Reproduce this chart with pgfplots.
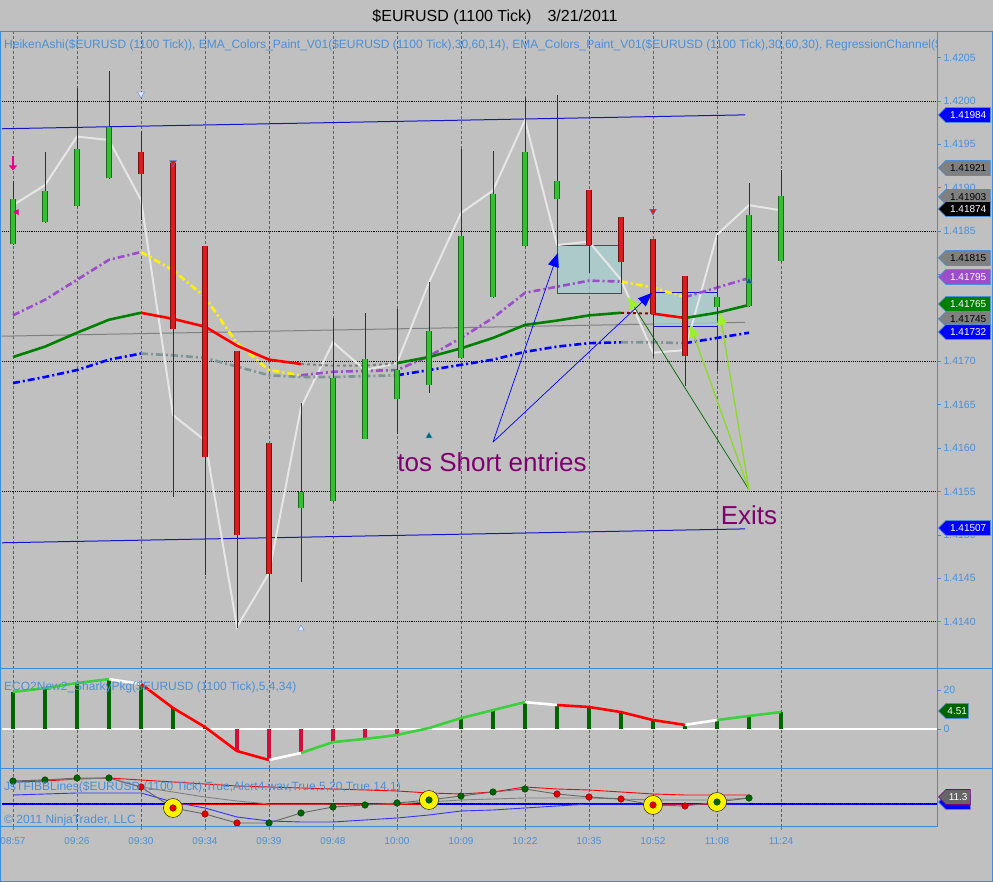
\documentclass[border=0pt]{standalone}
\usepackage{fontspec}
\setmainfont{Liberation Sans}
\usepackage{pgfplots}
\pgfplotsset{compat=1.18}
\usepackage{pgfplotstable}
\usetikzlibrary{arrows.meta,shapes.symbols}

\definecolor{bg}{HTML}{C0C0C0}
\definecolor{axblue}{HTML}{3C8DE0}
\definecolor{txtblue}{HTML}{4A8FD8}
\definecolor{cgreen}{HTML}{33C133}
\definecolor{cgreenedge}{HTML}{1E6A1E}
\definecolor{cred}{HTML}{D91C1C}
\definecolor{crededge}{HTML}{7A1010}
\definecolor{wick}{HTML}{2A3434}
\definecolor{closeline}{HTML}{E6E6E6}
\definecolor{emapurple}{HTML}{9B4DCA}
\definecolor{emagreen}{HTML}{008000}
\definecolor{emablue}{HTML}{0000FF}
\definecolor{emagray}{HTML}{7F9595}
\definecolor{regblue}{HTML}{1414C8}
\definecolor{boxfill}{HTML}{A6CECE}
\definecolor{annot}{HTML}{800070}
\definecolor{histgreen}{HTML}{006400}
\definecolor{histred}{HTML}{D0103C}
\definecolor{ecogreen}{HTML}{3CD03C}
\definecolor{lime}{HTML}{9CF02C}

\newcommand\fs[1]{\fontsize{#1}{#1}\selectfont}

% heiken ashi candles: i high low bodytop bodybottom
\pgfplotstableread{
i h l bt bb
0 1.41908 1.41834 1.41887 1.41835
1 1.41941 1.41860 1.41896 1.41861
2 1.42015 1.41878 1.41945 1.41879
3 1.42035 1.41910 1.41970 1.41911
9 1.41652 1.41446 1.41550 1.41531
10 1.41750 1.41538 1.41681 1.41539
11 1.41756 1.41610 1.41703 1.41611
12 1.41760 1.41616 1.41690 1.41657
13 1.41791 1.41664 1.41735 1.41673
14 1.41945 1.41703 1.41844 1.41704
15 1.41942 1.41773 1.41893 1.41774
16 1.42005 1.41832 1.41941 1.41833
17 1.42007 1.41832 1.41908 1.41887
22 1.41846 1.41689 1.41774 1.41763
23 1.41906 1.41763 1.41869 1.41764
24 1.41921 1.41815 1.41890 1.41816
}\greencandles
\pgfplotstableread{
i h l bt bb
4 1.41965 1.41863 1.41941 1.41916
5 1.41929 1.41544 1.41929 1.41737
6 1.41833 1.41454 1.41833 1.41590
7 1.41712 1.41393 1.41712 1.41500
8 1.41606 1.41396 1.41606 1.41455
18 1.41897 1.41802 1.41897 1.41834
19 1.41866 1.41790 1.41866 1.41815
20 1.41841 1.41705 1.41841 1.41755
21 1.41798 1.41672 1.41798 1.41706
}\redcandles
\pgfplotstableread{
i c
0 1.41880
1 1.41903
2 1.41959
3 1.41955
4 1.41886
5 1.41638
6 1.41609
7 1.41394
8 1.41456
9 1.41647
10 1.41722
11 1.41690
12 1.41698
13 1.41791
14 1.41871
15 1.41897
16 1.41978
17 1.41834
18 1.41838
19 1.41794
20 1.41710
21 1.41713
22 1.41846
23 1.41880
24 1.41874
}\closes
% ECO histogram
\pgfplotstableread{
i v
0 19.0
1 21.0
2 23.6
3 25.6
4 23.1
5 10.8
6 1.0
13 0.5
14 5.6
15 9.7
16 13.8
17 12.3
18 11.3
19 8.7
20 4.6
21 2.1
22 4.6
23 6.7
24 8.7
}\ecopos
\pgfplotstableread{
i v
7 -11.3
8 -15.9
9 -12.3
10 -6.7
11 -5.1
12 -3.1
}\econeg
% BB panel (pixels above panel bottom)
\pgfplotstableread{
i dot up mid lo
0 46 45 46 32
1 47 46 47 33
2 49 48 48 34
3 49 49 49 34
4 40 47 40 34
5 19 45 35 25
6 13 43 30 19
7 4 41 26 10
8 4 40 23 6
9 14 39 23 5
10 20 38 23 5
11 22 37 23 7
12 24 36 23 9
13 27 34 25 12
14 31 33 27 16
15 35 35 28 17
16 38 40 29 19
17 33 38 29 21
18 30 37 29 23
19 28 35 28 23
20 22 33 27 23
21 21 32 27 23
22 25 32 27 23
23 29 32 29 23
}\bbdata

\pgfplotsset{
  panel/.style={
    scale only axis, width=935pt,
    xmin=-0.34375, xmax=28.875,
    xtick={0,2,...,24},
    xmajorgrids,
    major grid style={draw=gray!75!black, dash pattern=on 3pt off 2pt, line width=0.5pt},
    axis line style={draw=none},
    tick align=outside,
    major tick length=4pt,
    tick style={draw=axblue, line width=0.6pt},
    ytick pos=right, yticklabel pos=right,
    xtick pos=bottom,
    yticklabel style={font=\fs{10.5}, text=txtblue, xshift=-1pt},
    xticklabel style={font=\fs{10}, text=txtblue, yshift=-4pt},
  },
  ema/.style={line width=2.6pt, mark=none, forget plot},
  dashdot/.style={dash pattern=on 7pt off 3pt on 2pt off 3pt},
}

\begin{document}
\begin{tikzpicture}[x=1pt,y=1pt]
\fill[bg] (0,0) rectangle (993,882);
\useasboundingbox (0,0) rectangle (993,882);

% ---------------- main price panel
\begin{axis}[panel, name=main, at={(2pt,213pt)}, anchor=south west, height=637pt,
  ymin=1.413456, ymax=1.420795,
  ytick={1.4140,1.4145,1.4150,1.4155,1.4160,1.4165,1.4170,1.4175,1.4180,1.4185,1.4190,1.4195,1.4200,1.4205},
  yticklabels={1.4140,1.4145,1.4150,1.4155,1.4160,1.4165,1.4170,,,1.4185,1.4190,1.4195,1.4200,1.4205},
  scaled y ticks=false,
  xticklabels={}, xtick style={draw=none}]

\pgfplotsinvokeforeach{1.4140,1.4155,1.4170,1.4185,1.4200}{
  \addplot[black, densely dotted, line width=0.9pt, forget plot] coordinates {(-0.34375,#1) (28.875,#1)};
}

% regression channel
\addplot[regblue, line width=1pt] coordinates {(-0.34375,1.41968) (22.875,1.41984)};
\addplot[regblue, line width=1pt] coordinates {(-0.34375,1.41491) (22.875,1.41507)};
\addplot[gray, line width=1pt] coordinates {(-0.34375,1.41729) (22.875,1.41745)};

% trade zones
\addplot[fill=boxfill, fill opacity=0.75, draw=cgreenedge, line width=0.8pt] coordinates {(17,1.41778) (19,1.41778) (19,1.41834) (17,1.41834)} -- cycle;
\addplot[fill=boxfill, fill opacity=0.75, draw=regblue, line width=0.8pt] coordinates {(20,1.41740) (22,1.41740) (22,1.41779) (20,1.41779)} -- cycle;

% close line
\addplot[closeline, line width=2pt, mark=none] table[x=i, y=c] {\closes};

% upper EMA (purple / yellow)
\addplot[ema, emapurple, dashdot] coordinates {(0,1.41753) (1,1.41771) (2,1.41794) (3,1.41817) (4,1.41826)};
\addplot[ema, yellow, dashdot] coordinates {(4,1.41826) (5,1.41805) (6,1.41774) (7,1.41721) (8,1.41690) (9,1.41684)};
\addplot[ema, emapurple, dashdot] coordinates {(9,1.41684) (10,1.41688) (11,1.41689) (12,1.41690) (13,1.41706) (14,1.41727) (15,1.41750) (16,1.41779) (17,1.41786) (18,1.41793) (19,1.41792)};
\addplot[ema, yellow, dashdot] coordinates {(19,1.41792) (20,1.41785) (21,1.41774)};
\addplot[ema, emapurple, dashdot] coordinates {(21,1.41774) (22,1.41785) (23,1.41796)};

% middle EMA (green / red)
\addplot[ema, emagreen] coordinates {(0,1.41705) (1,1.41717) (2,1.41733) (3,1.41748) (4,1.41756)};
\addplot[ema, red] coordinates {(4,1.41756) (5,1.41749) (6,1.41740) (7,1.41718) (8,1.41702) (9,1.41697)};
\addplot[ema, gray, dashed, line width=2pt] coordinates {(9,1.41697) (10,1.41695) (11,1.41695) (12,1.41698)};
\addplot[ema, emagreen] coordinates {(12,1.41698) (13,1.41705) (14,1.41715) (15,1.41727) (16,1.41742) (17,1.41747) (18,1.41753) (19,1.41756)};
\addplot[ema, red!60!black, dashed, line width=2pt] coordinates {(19,1.41756) (20,1.41755)};
\addplot[ema, red] coordinates {(20,1.41755) (21,1.41750)};
\addplot[ema, emagreen] coordinates {(21,1.41750) (22,1.41756) (23,1.41765)};

% lower EMA (blue / gray)
\addplot[ema, emablue, dashdot] coordinates {(0,1.41675) (1,1.41682) (2,1.41690) (3,1.41702) (4,1.41709)};
\addplot[ema, emagray, dashdot] coordinates {(4,1.41709) (5,1.41707) (6,1.41704) (7,1.41694) (8,1.41684) (9,1.41682) (10,1.41682) (11,1.41683) (12,1.41684)};
\addplot[ema, emablue, dashdot] coordinates {(12,1.41684) (13,1.41690) (14,1.41696) (15,1.41702) (16,1.41711) (17,1.41717) (18,1.41721) (19,1.41722)};
\addplot[ema, emagray, dashdot] coordinates {(19,1.41722) (20,1.41722) (21,1.41721)};
\addplot[ema, emablue, dashdot] coordinates {(21,1.41721) (22,1.41727) (23,1.41733)};

% candles: wicks, then bodies
\addplot[draw=none, mark=none, forget plot, error bars/.cd, y dir=plus, y explicit, error mark=none,
  error bar style={draw=wick, line width=1pt}] table[x=i, y=l, y error expr=\thisrow{h}-\thisrow{l}] {\greencandles};
\addplot[draw=none, mark=none, forget plot, error bars/.cd, y dir=plus, y explicit, error mark=none,
  error bar style={draw=wick, line width=1pt}] table[x=i, y=l, y error expr=\thisrow{h}-\thisrow{l}] {\redcandles};
\addplot[draw=none, mark=none, forget plot, error bars/.cd, y dir=plus, y explicit, error mark=none,
  error bar style={draw=cgreenedge, line width=5.4pt}] table[x=i, y=bb, y error expr=\thisrow{bt}-\thisrow{bb}] {\greencandles};
\addplot[draw=none, mark=none, forget plot, error bars/.cd, y dir=plus, y explicit, error mark=none,
  error bar style={draw=cgreen, line width=3.6pt}] table[x=i, y=bb, y error expr=\thisrow{bt}-\thisrow{bb}] {\greencandles};
\addplot[draw=none, mark=none, forget plot, error bars/.cd, y dir=plus, y explicit, error mark=none,
  error bar style={draw=crededge, line width=5.4pt}] table[x=i, y=bb, y error expr=\thisrow{bt}-\thisrow{bb}] {\redcandles};
\addplot[draw=none, mark=none, forget plot, error bars/.cd, y dir=plus, y explicit, error mark=none,
  error bar style={draw=cred, line width=3.6pt}] table[x=i, y=bb, y error expr=\thisrow{bt}-\thisrow{bb}] {\redcandles};

% signal markers
\addplot[magenta, line width=2.6pt, -{Triangle[width=8pt,length=5pt]}, quiver={u=0, v=-0.00017}] coordinates {(0,1.41937)};
\addplot[only marks, mark=triangle*, mark size=3pt, mark options={rotate=90, fill=magenta, draw=magenta}] coordinates {(0.12,1.41872)};
\addplot[only marks, mark=triangle*, mark size=4pt, mark options={rotate=180, fill=blue!10!white, draw=txtblue}] coordinates {(4,1.42008)};
\addplot[only marks, mark=triangle*, mark size=4pt, mark options={rotate=180, fill=cred, draw=txtblue}] coordinates {(5,1.41929) (20,1.41873)};
\addplot[only marks, mark=triangle*, mark size=3.6pt, mark options={fill=teal!80!black, draw=txtblue}] coordinates {(13,1.41614) (23,1.41792)};
\addplot[only marks, mark=triangle*, mark size=3.6pt, mark options={fill=blue!10!white, draw=txtblue}] coordinates {(9,1.41392)};

% annotation arrows
\addplot[blue, line width=0.7pt, -{Triangle[width=11pt,length=14pt]}, quiver={u=\thisrow{u}, v=\thisrow{v}}] table {
x y u v
15 1.41607 2.03 0.00218
15 1.41607 4.97 0.00172
};
\addplot[emagreen!80!black, line width=0.7pt, -{Triangle[width=10pt,length=12pt,color=lime]}, quiver={u=\thisrow{u}, v=\thisrow{v}}] table {
x y u v
23 1.41552 -3.78 0.00222
};
\addplot[lime!90!black, line width=1.3pt, -{Triangle[width=10pt,length=12pt,color=lime]}, quiver={u=\thisrow{u}, v=\thisrow{v}}] table {
x y u v
23 1.41552 -1.84 0.00190
23 1.41552 -0.91 0.00204
};

\node[text=annot, font=\fs{26}] at (axis cs:14.97,1.41584) {tos Short entries};
\node[text=annot, font=\fs{26}] at (axis cs:23,1.41523) {Exits};
\end{axis}

% ---------------- ECO oscillator panel
\begin{axis}[panel, name=eco, at={(2pt,114pt)}, anchor=south west, height=99pt,
  ymin=-20, ymax=30.8, ytick={0,20}, yticklabels={0,20},
  xticklabels={}, xtick style={draw=none}]
\addplot[white, line width=1.3pt] coordinates {(-0.34375,0) (28.875,0)};
\addplot[ycomb, histgreen, line width=3.6pt, mark=none] table[x=i, y=v] {\ecopos};
\addplot[ycomb, histred, line width=3.6pt, mark=none] table[x=i, y=v] {\econeg};
\addplot[ema, ecogreen] coordinates {(0,19.0) (1,21.0) (2,23.6) (3,25.6)};
\addplot[ema, white] coordinates {(3,25.6) (4,23.1)};
\addplot[ema, red] coordinates {(4,23.1) (5,10.8) (6,1.0) (7,-11.3) (8,-15.9)};
\addplot[ema, white] coordinates {(8,-15.9) (9,-12.3)};
\addplot[ema, ecogreen] coordinates {(9,-12.3) (10,-6.7) (11,-5.1) (12,-3.1) (13,0.5) (14,5.6) (15,9.7) (16,13.8)};
\addplot[ema, white] coordinates {(16,13.8) (17,12.3)};
\addplot[ema, red] coordinates {(17,12.3) (18,11.3) (19,8.7) (20,4.6) (21,2.1)};
\addplot[ema, white] coordinates {(21,2.1) (22,4.6)};
\addplot[ema, ecogreen] coordinates {(22,4.6) (23,6.7) (24,8.7)};
\end{axis}

% ---------------- BB lines panel
\begin{axis}[panel, name=bb, at={(2pt,55pt)}, anchor=south west, height=58pt,
  ymin=0, ymax=58, ytick=\empty,
  xticklabels={08:57,09:26,09:30,09:34,09:39,09:48,10:00,10:09,10:22,10:35,10:52,11:08,11:24},
  major tick length=3pt]
\addplot[emablue, line width=1.6pt] coordinates {(-0.34375,23) (28.875,23)};
\addplot[black, densely dotted, line width=1pt] coordinates {(-0.34375,23) (28.875,23)};
\addplot[red, line width=0.9pt] coordinates {(5,23) (13,23)};
\addplot[red, line width=0.9pt] coordinates {(20,23) (22,23)};
\addplot[red, line width=0.9pt, mark=none] table[x=i, y=up] {\bbdata};
\addplot[gray, line width=0.9pt, mark=none] table[x=i, y=mid] {\bbdata};
\addplot[blue!80!white, line width=0.9pt, mark=none] table[x=i, y=lo] {\bbdata};
\addplot[gray!80!black, line width=0.9pt, mark=none] table[x=i, y=dot] {\bbdata};
\addplot[only marks, mark=*, mark size=9.5pt, mark options={fill=yellow, draw=none}] coordinates {(5,19) (13,27) (20,22) (22,25)};
\addplot[only marks, mark=*, mark size=3.3pt, mark options={fill=histgreen, draw=histgreen!60!black}] coordinates {(0,46) (1,47) (2,49) (3,49) (8,4) (9,14) (10,20) (11,22) (12,24) (13,27) (14,31) (15,35) (16,38) (22,25) (23,29)};
\addplot[only marks, mark=*, mark size=3.3pt, mark options={fill=red!90!black, draw=red!50!black}] coordinates {(4,40) (5,19) (6,13) (7,4) (17,33) (18,30) (19,28) (20,22) (21,21)};
\end{axis}

% panel captions
\begin{scope}
\clip (2,213) rectangle (937,850);
\node[anchor=west, text=txtblue, font=\fs{12}, inner sep=0pt] at (4,837) {HeikenAshi(\$EURUSD (1100 Tick)), EMA\_Colors\_Paint\_V01(\$EURUSD (1100 Tick),30,60,14), EMA\_Colors\_Paint\_V01(\$EURUSD (1100 Tick),30,60,30), RegressionChannel(\$E};
\end{scope}
\node[anchor=west, text=txtblue, font=\fs{12}, inner sep=0pt] at (4,195) {ECO2New2\_SharkyPkg(\$EURUSD (1100 Tick),5,4,34)};
\node[anchor=west, text=txtblue, font=\fs{12}, inner sep=0pt] at (4,95) {JsTFIBBLines(\$EURUSD (1100 Tick),True,Alert4.wav,True,5,20,True,14,1)};
\node[anchor=west, text=txtblue, font=\fs{12}, inner sep=0pt] at (4,62) {© 2011 NinjaTrader, LLC};

% title
\node[font=\fs{16}, text=black] at (495,865) {\$EURUSD (1100 Tick)\quad 3/21/2011};

% frame
\draw[axblue, line width=1pt] (0.5,0.5) rectangle (992.5,850);
\draw[axblue, line width=1pt] (0,213) -- (993,213);
\draw[axblue, line width=1pt] (0,113) -- (993,113);
\draw[axblue, line width=1pt] (0,55) -- (937,55);
\draw[axblue, line width=1pt] (937,55) -- (937,850);

% value tags
\tikzset{tag/.style={signal, signal to=west, draw=txtblue, line width=0.6pt,
  minimum height=15pt, minimum width=52pt, inner sep=1pt, font=\fs{10}, anchor=west}}
\node[tag, fill=gray, text=black] at (938,685) {1.41903};
\node[tag, fill=gray, text=black] at (938,714) {1.41921};
\node[tag, fill=black, text=white] at (938,673) {1.41874};
\node[tag, fill=blue, text=white] at (938,767) {1.41984};
\node[tag, fill=gray, text=black] at (938,624) {1.41815};
\node[tag, fill=emapurple, text=white] at (938,605) {1.41795};
\node[tag, fill=gray, text=black] at (938,563) {1.41745};
\node[tag, fill=emagreen, text=white] at (938,578) {1.41765};
\node[tag, fill=blue, text=white] at (938,550) {1.41732};
\node[tag, fill=blue, text=white] at (938,354) {1.41507};
\node[tag, fill=histgreen, text=white, minimum width=30pt] at (938,171) {4.51};
\node[tag, fill=blue, text=white, minimum width=32pt] at (938,80) {\phantom{11.3}};
\node[tag, fill=gray!80!black, draw=violet, text=white, minimum width=32pt] at (938,85) {11.3};
\end{tikzpicture}
\end{document}
